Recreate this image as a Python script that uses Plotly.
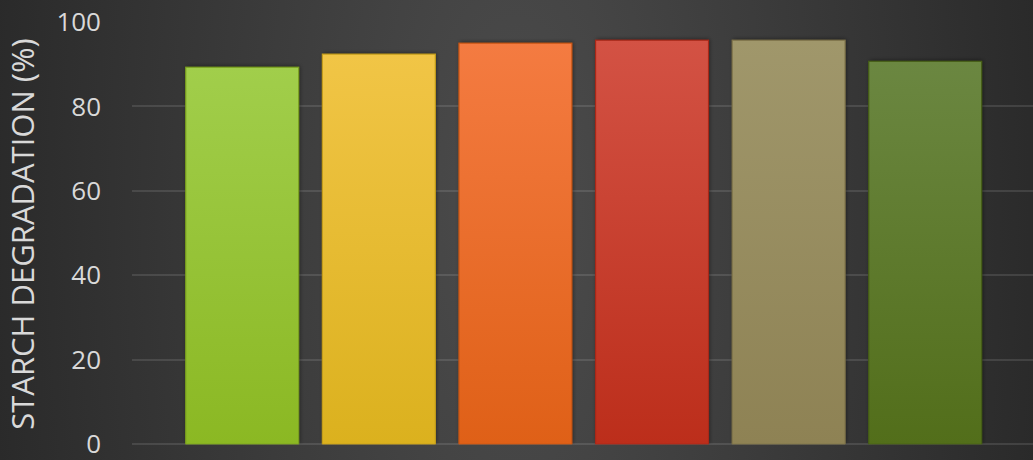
import base64
import plotly.graph_objects as go

# Starch degradation (%) per sample, left to right
positions = [0, 1, 2, 3, 4, 5]
degradation = [89.3, 92.4, 95.0, 95.7, 95.7, 90.7]

# Vertical gradient of each bar (top colour, bottom colour) and its outline
top_colors = ["#a1ce4b", "#f1c546", "#f47b41", "#d35244", "#a0976b", "#6b8741"]
bottom_colors = ["#8bb823", "#dbb11e", "#df6017", "#bc2e1b", "#8e8254", "#526e1a"]
edge_colors = ["#7a9f1f", "#c49d1a", "#c65514", "#a82818", "#7d7249", "#465e16"]

y_ticks = [0, 20, 40, 60, 80, 100]

W, H = 1033, 460
M_L, M_R, M_T, M_B = 132, 0, 22, 14
X_RANGE = [-0.807, 5.789]
Y_RANGE = [-0.4, 100]
BAR_WIDTH = 0.827
PAD = 5  # room around each bar for its soft drop shadow, in pixels

plot_w = W - M_L - M_R
plot_h = H - M_T - M_B
px_x = plot_w / (X_RANGE[1] - X_RANGE[0])
px_y = plot_h / (Y_RANGE[1] - Y_RANGE[0])


def svg_uri(svg):
    return "data:image/svg+xml;base64," + base64.b64encode(svg.encode()).decode()


cx, cy = W * 0.5, H * 0.45
background_svg = (
    f'<svg xmlns="http://www.w3.org/2000/svg" width="{W}" height="{H}" '
    f'viewBox="0 0 {W} {H}" preserveAspectRatio="none">'
    f'<defs><radialGradient id="g" gradientUnits="userSpaceOnUse" cx="{cx}" cy="{cy}" r="560" '
    f'gradientTransform="translate({cx} {cy}) scale(1 2.4) translate({-cx} {-cy})">'
    '<stop offset="0" stop-color="#4c4c4c"/>'
    '<stop offset="1" stop-color="#282828"/>'
    '</radialGradient></defs>'
    f'<rect width="{W}" height="{H}" fill="url(#g)"/></svg>'
)


def bar_svg(bw, bh, top, bottom, edge):
    cw, ch = bw + 2 * PAD, bh + PAD
    return (
        f'<svg xmlns="http://www.w3.org/2000/svg" width="{cw:.2f}" height="{ch:.2f}" '
        f'viewBox="0 0 {cw:.2f} {ch:.2f}" preserveAspectRatio="none">'
        '<defs>'
        '<linearGradient id="b" x1="0" y1="0" x2="0" y2="1">'
        f'<stop offset="0" stop-color="{top}"/>'
        f'<stop offset="1" stop-color="{bottom}"/>'
        '</linearGradient>'
        '<filter id="s" x="-20%" y="-20%" width="140%" height="140%">'
        '<feGaussianBlur stdDeviation="2"/></filter>'
        '</defs>'
        f'<rect x="{PAD + 1}" y="{PAD - 1}" width="{bw:.2f}" height="{bh:.2f}" '
        'fill="#000" fill-opacity="0.45" filter="url(#s)"/>'
        f'<rect x="{PAD}" y="{PAD}" width="{bw:.2f}" height="{bh:.2f}" fill="url(#b)" '
        f'stroke="{edge}" stroke-width="1.2"/></svg>'
    )


images = [
    dict(
        source=svg_uri(background_svg),
        xref="paper", yref="paper",
        x=-M_L / plot_w, y=1 + M_T / plot_h,
        sizex=W / plot_w, sizey=H / plot_h,
        xanchor="left", yanchor="top",
        sizing="stretch", layer="below",
    )
]
for pos, val, top, bottom, edge in zip(positions, degradation, top_colors, bottom_colors, edge_colors):
    bw = BAR_WIDTH * px_x
    bh = val * px_y
    images.append(
        dict(
            source=svg_uri(bar_svg(bw, bh, top, bottom, edge)),
            xref="x", yref="y",
            x=pos, y=val + PAD / px_y,
            sizex=(bw + 2 * PAD) / px_x, sizey=(bh + PAD) / px_y,
            xanchor="center", yanchor="top",
            sizing="stretch", layer="above",
        )
    )

fig = go.Figure(
    go.Bar(
        x=positions,
        y=degradation,
        width=BAR_WIDTH,
        marker=dict(color=bottom_colors, line=dict(width=0)),
        hovertemplate="%{y:.1f}%<extra></extra>",
    )
)

fig.update_layout(
    width=W,
    height=H,
    margin=dict(l=M_L, r=M_R, t=M_T, b=M_B),
    paper_bgcolor="#2a2a2a",
    plot_bgcolor="rgba(0,0,0,0)",
    images=images,
    showlegend=False,
    font=dict(family="Open Sans", color="#d9d9d9"),
    xaxis=dict(
        range=X_RANGE,
        showticklabels=False,
        showgrid=False,
        zeroline=False,
        fixedrange=True,
    ),
    yaxis=dict(
        range=Y_RANGE,
        tickvals=y_ticks,
        tickfont=dict(size=26, color="#d9d9d9"),
        ticklabelstandoff=30,
        ticklabeloverflow="allow",
        showgrid=True,
        gridcolor="rgba(255,255,255,0.11)",
        gridwidth=1.5,
        zeroline=False,
        title=dict(
            text="STARCH DEGRADATION (%)",
            font=dict(size=31, color="#d9d9d9"),
            standoff=12,
        ),
        fixedrange=True,
    ),
)

fig.write_html("out.html")
